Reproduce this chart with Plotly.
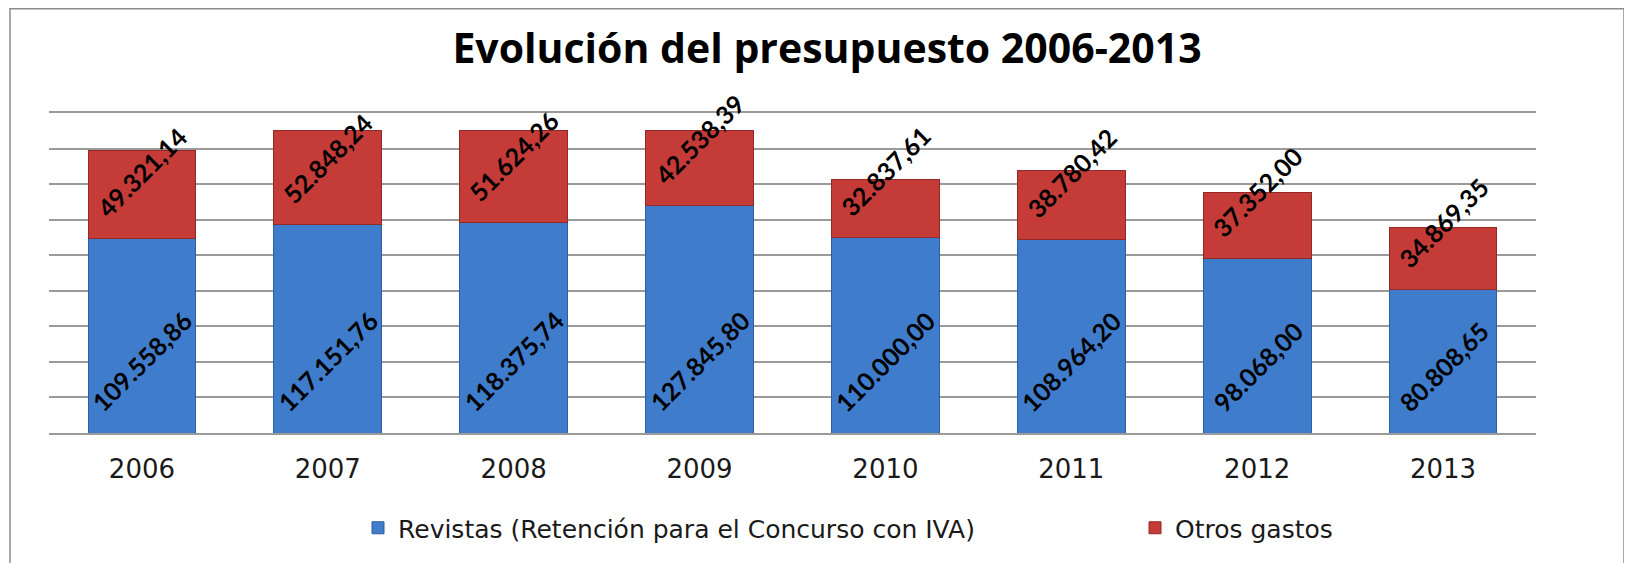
import plotly.graph_objects as go

# datos del presupuesto (euros)
years = ["2006", "2007", "2008", "2009", "2010", "2011", "2012", "2013"]
revistas = [109558.86, 117151.76, 118375.74, 127845.80, 110000.00, 108964.20, 98068.00, 80808.65]
otros = [49321.14, 52848.24, 51624.26, 42538.39, 32837.61, 38780.42, 37352.00, 34869.35]

# la página añade 8 px de margen al cuerpo, así que la figura es 8 px más pequeña
W, H = 1624, 555
ml, mr, mt, mb = 41, 96, 105, 130
pw, ph = W - ml - mr, H - mt - mb


def es(v):
    # formato español: 109.558,86
    s = f"{v:,.2f}"
    return s.replace(",", "X").replace(".", ",").replace("X", ".")


fig = go.Figure()
fig.add_trace(go.Bar(x=years, y=revistas, name="Revistas (Retención para el Concurso con IVA)",
                     marker=dict(color="#3F7DCC", line=dict(color="#2D5E9F", width=1)), legend="legend"))
fig.add_trace(go.Bar(x=years, y=otros, name="Otros gastos",
                     marker=dict(color="#C43B37", line=dict(color="#932927", width=1)), legend="legend2"))

# etiquetas giradas; en eje de categorías se usa el índice
lab_font = dict(family="Lato", size=25, color="black", weight="bold")
for i in range(len(years)):
    fig.add_annotation(x=i, y=0, text=es(revistas[i]), textangle=-45, showarrow=False,
                       xanchor="center", yanchor="bottom", yshift=13, font=lab_font)
    fig.add_annotation(x=i, y=revistas[i], text=es(otros[i]), textangle=-45, showarrow=False,
                       xanchor="center", yanchor="bottom", yshift=13, font=lab_font)

# marco del gráfico
fig.add_shape(type="rect", xref="paper", yref="paper",
              x0=(2 - ml) / pw, x1=(1616 - ml) / pw, y0=-(mb + 10) / ph, y1=1 + (mt - 0.75) / ph,
              line=dict(color="#8C8C8C", width=1.5), layer="below")

leg_font = dict(family="DejaVu Sans", size=25, color="#1a1a1a")
leg_y = (mt + ph - 520) / ph
fig.update_layout(
    width=W, height=H,
    margin=dict(l=ml, r=mr, t=mt, b=mb),
    paper_bgcolor="white", plot_bgcolor="white",
    barmode="stack", bargap=0.42,
    title=dict(text="<b>Evolución del presupuesto 2006-2013</b>", x=819 / W, xanchor="center",
               y=1 - 41 / H, yanchor="middle", font=dict(family="Open Sans", size=41, color="black")),
    font=dict(family="DejaVu Sans", color="black"),
    showlegend=True,
    legend=dict(orientation="h", x=(350 - ml) / pw, xanchor="left", y=leg_y, yanchor="middle",
                font=leg_font, itemwidth=30),
    legend2=dict(orientation="h", x=(1127 - ml) / pw, xanchor="left", y=leg_y, yanchor="middle",
                 font=leg_font, itemwidth=30),
)
fig.update_yaxes(range=[0, 180000], dtick=20000, showticklabels=False, showgrid=True,
                 gridcolor="#9A9A9A", gridwidth=1.5, zeroline=False, showline=False)
fig.update_xaxes(type="category", range=[-0.5, len(years) - 0.5], showline=True, mirror=True,
                 linecolor="#9A9A9A", linewidth=1.5, ticks="",
                 tickfont=dict(family="DejaVu Sans", size=26, color="#1a1a1a"), ticklabelstandoff=12)

fig.write_html("out.html")
